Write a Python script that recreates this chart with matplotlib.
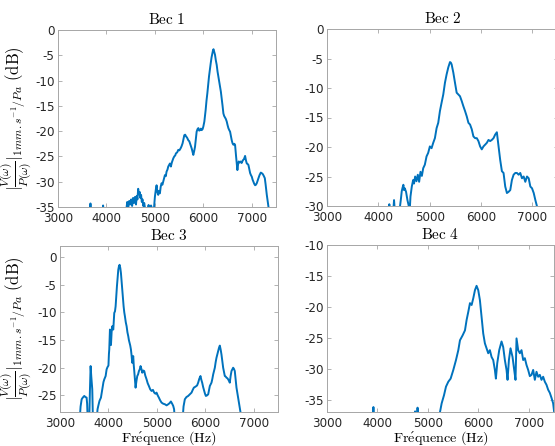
import matplotlib
matplotlib.use("Agg")
import matplotlib.pyplot as plt

plt.rcParams['mathtext.fontset'] = 'cm'
plt.rcParams['axes.unicode_minus'] = False
plt.rcParams['font.family'] = ['DejaVu Sans']

# ---------------- data ----------------
titles = ["Bec 1", "Bec 2", "Bec 3", "Bec 4"]
xticks = [3000, 4000, 5000, 6000, 7000]

f1 = [3655, 3670, 3685, 3915, 3931, 3947, 4395, 4410, 4430, 4445,
      4470, 4490, 4510, 4530, 4550, 4570, 4590, 4610, 4625, 4640,
      4655, 4670, 4685, 4700, 4715, 4730, 4745, 4760, 4780, 4800,
      4830, 4870, 4890, 4920, 4950, 4975, 5000, 5020, 5035, 5050,
      5069, 5085, 5103, 5120, 5138, 5155, 5172, 5190, 5207, 5225,
      5241, 5260, 5276, 5293, 5310, 5330, 5350, 5379, 5400, 5420,
      5434, 5460, 5483, 5505, 5531, 5550, 5572, 5590, 5607, 5625,
      5641, 5665, 5690, 5710, 5724, 5740, 5759, 5775, 5793, 5810,
      5828, 5845, 5862, 5880, 5897, 5915, 5931, 5950, 5966, 5985,
      6000, 6021, 6035, 6048, 6065, 6083, 6100, 6117, 6135, 6152,
      6170, 6186, 6200, 6210, 6225, 6241, 6258, 6276, 6293, 6310,
      6328, 6345, 6362, 6379, 6397, 6414, 6430, 6448, 6465, 6483,
      6500, 6517, 6535, 6552, 6570, 6586, 6603, 6621, 6640, 6655,
      6666, 6676, 6690, 6703, 6717, 6731, 6750, 6772, 6790, 6814,
      6840, 6862, 6880, 6897, 6915, 6931, 6950, 6966, 6983, 7000,
      7017, 7034, 7050, 7069, 7085, 7103, 7120, 7138, 7160, 7186,
      7205, 7228, 7250, 7269, 7285, 7297, 7310, 7324, 7345, 7365]
db1 = [-37.0, -34.3, -37.0, -37.0, -34.7, -37.0, -37.0, -35.5, -34.0, -35.5,
       -33.8, -34.5, -33.5, -34.8, -33.2, -34.2, -33.0, -34.5, -32.8, -33.5,
       -31.4, -32.5, -32.0, -33.2, -32.6, -34.0, -33.5, -34.8, -34.2, -35.5,
       -36.0, -34.6, -35.3, -34.7, -35.5, -36.0, -33.0, -31.5, -30.7, -32.0,
       -32.6, -31.8, -32.3, -31.0, -30.3, -30.6, -30.0, -29.3, -28.7, -28.9,
       -28.0, -27.6, -27.0, -26.7, -26.4, -27.0, -26.2, -25.4, -25.0, -24.8,
       -24.4, -24.2, -23.7, -23.8, -23.4, -23.0, -22.4, -21.6, -20.8, -20.7,
       -21.0, -21.3, -21.8, -22.0, -22.4, -22.9, -23.4, -24.0, -24.7, -24.0,
       -23.1, -21.5, -20.1, -19.6, -19.4, -19.9, -19.8, -19.5, -19.8, -19.6,
       -19.1, -18.1, -17.0, -15.8, -14.0, -12.5, -10.8, -9.2, -7.8, -6.6,
       -5.4, -4.6, -4.0, -3.8, -4.3, -4.9, -6.0, -6.9, -8.2, -9.2,
       -10.3, -11.2, -12.2, -13.5, -15.0, -16.5, -17.0, -17.3, -17.6, -18.1,
       -18.8, -19.4, -19.8, -20.1, -21.0, -21.8, -22.4, -22.7, -22.5, -22.7,
       -24.0, -25.0, -26.5, -27.7, -26.6, -26.0, -26.2, -26.0, -26.3, -25.8,
       -25.5, -24.9, -25.8, -26.4, -26.5, -26.7, -27.6, -28.3, -28.7, -29.0,
       -29.6, -30.0, -30.4, -30.7, -30.6, -30.3, -29.8, -29.3, -28.7, -28.2,
       -28.3, -28.5, -28.9, -29.3, -30.5, -31.6, -32.6, -33.6, -35.0, -37.0]

f2 = [4200, 4214, 4228, 4290, 4306, 4322, 4410, 4423, 4440, 4456,
      4472, 4488, 4500, 4515, 4540, 4567, 4593, 4610, 4626, 4652,
      4678, 4695, 4717, 4743, 4769, 4795, 4821, 4848, 4874, 4906,
      4939, 4971, 5004, 5037, 5069, 5102, 5135, 5167, 5200, 5232,
      5265, 5298, 5330, 5363, 5396, 5412, 5428, 5461, 5493, 5526,
      5559, 5591, 5624, 5657, 5689, 5722, 5755, 5787, 5820, 5852,
      5885, 5918, 5950, 5983, 6015, 6048, 6081, 6113, 6146, 6178,
      6211, 6244, 6276, 6309, 6342, 6374, 6407, 6439, 6472, 6505,
      6537, 6570, 6602, 6635, 6668, 6700, 6733, 6765, 6798, 6831,
      6863, 6896, 6929, 6961, 6994, 7027, 7059, 7092, 7110]
db2 = [-31.0, -29.7, -31.0, -31.0, -29.0, -31.0, -31.0, -30.0, -28.8, -27.5,
       -26.9, -26.4, -27.3, -27.0, -27.6, -29.0, -30.0, -31.0, -28.4, -26.7,
       -25.6, -26.2, -25.0, -25.8, -24.7, -25.9, -24.2, -24.9, -23.6, -23.0,
       -21.6, -21.0, -19.9, -20.2, -19.3, -18.5, -16.8, -15.9, -13.9, -12.5,
       -11.1, -9.1, -7.7, -6.5, -5.6, -5.7, -6.0, -7.4, -9.1, -10.8,
       -11.1, -11.4, -12.2, -13.1, -13.9, -14.8, -15.9, -16.2, -17.0, -18.2,
       -18.5, -18.5, -19.0, -19.9, -20.4, -19.9, -19.6, -19.3, -18.8, -19.0,
       -18.8, -18.5, -17.9, -17.5, -19.9, -22.2, -24.1, -24.4, -26.7, -27.8,
       -27.6, -27.3, -25.6, -24.7, -24.4, -24.4, -24.7, -24.4, -25.3, -25.0,
       -25.9, -25.0, -25.3, -26.7, -27.0, -27.8, -29.0, -30.1, -31.0]

f3 = [3405, 3425, 3447, 3470, 3501, 3525, 3549, 3560, 3572, 3604,
      3618, 3632, 3645, 3666, 3680, 3756, 3775, 3790, 3815, 3845,
      3862, 3880, 3897, 3914, 3928, 3942, 3962, 3980, 4000, 4010,
      4017, 4031, 4042, 4052, 4066, 4079, 4090, 4100, 4110, 4120,
      4135, 4148, 4162, 4175, 4190, 4203, 4218, 4230, 4245, 4258,
      4272, 4285, 4300, 4313, 4327, 4340, 4358, 4375, 4392, 4409,
      4422, 4436, 4450, 4464, 4478, 4491, 4500, 4512, 4522, 4533,
      4547, 4560, 4578, 4595, 4612, 4629, 4646, 4663, 4680, 4698,
      4718, 4739, 4760, 4787, 4810, 4835, 4862, 4890, 4918, 4945,
      4970, 4993, 5017, 5041, 5068, 5096, 5130, 5165, 5200, 5234,
      5262, 5289, 5315, 5337, 5355, 5371, 5529, 5550, 5577, 5610,
      5646, 5680, 5715, 5740, 5763, 5800, 5830, 5852, 5875, 5900,
      5918, 5935, 5955, 5976, 5993, 6011, 6035, 6059, 6076, 6093,
      6110, 6127, 6145, 6162, 6180, 6196, 6213, 6230, 6248, 6265,
      6282, 6299, 6316, 6333, 6350, 6368, 6385, 6402, 6420, 6437,
      6455, 6471, 6490, 6505, 6522, 6540, 6557, 6574, 6590, 6608,
      6625, 6643, 6660, 6677, 6695, 6711, 6725, 6740]
db3 = [-29.5, -27.0, -25.7, -25.4, -25.1, -25.3, -25.4, -26.5, -29.5, -29.5,
       -24.0, -19.7, -21.5, -23.9, -29.5, -29.5, -27.5, -26.9, -26.0, -25.4,
       -24.5, -23.6, -22.6, -22.1, -21.8, -21.5, -20.3, -19.9, -19.6, -17.5,
       -16.7, -13.1, -15.0, -15.9, -13.5, -12.5, -12.9, -13.1, -11.5, -10.1,
       -9.8, -8.9, -7.0, -5.3, -3.6, -2.3, -1.6, -1.4, -2.0, -2.9,
       -4.4, -5.9, -7.5, -8.9, -10.0, -10.7, -11.8, -12.5, -13.6, -14.3,
       -15.0, -15.5, -16.0, -16.7, -17.8, -19.1, -18.2, -17.9, -19.5, -20.6,
       -22.3, -23.6, -22.4, -21.5, -21.2, -20.6, -20.3, -19.7, -20.2, -20.9,
       -20.5, -20.6, -21.4, -22.1, -22.8, -23.3, -23.9, -24.2, -24.0, -24.5,
       -24.7, -24.5, -25.0, -25.4, -25.9, -26.3, -26.5, -26.6, -26.8, -26.6,
       -26.4, -26.1, -26.5, -26.9, -27.5, -29.5, -29.5, -27.0, -25.7, -25.3,
       -25.1, -24.8, -24.5, -24.0, -23.6, -23.4, -23.2, -22.7, -22.0, -21.5,
       -22.2, -22.7, -23.5, -24.2, -24.7, -25.1, -25.0, -24.8, -24.0, -23.3,
       -23.0, -22.7, -22.0, -21.2, -20.6, -20.0, -19.0, -18.2, -17.6, -17.0,
       -16.4, -16.0, -16.7, -17.6, -18.8, -20.0, -20.8, -21.5, -21.6, -21.8,
       -21.9, -22.1, -22.4, -22.7, -21.5, -20.6, -20.3, -20.0, -20.2, -20.6,
       -22.0, -23.6, -24.5, -25.4, -26.3, -27.2, -28.0, -29.5]

f4 = [3905, 3920, 3935, 4735, 4746, 4757, 4780, 4795, 4810, 5225,
      5240, 5273, 5319, 5359, 5405, 5451, 5504, 5557, 5603, 5636,
      5689, 5735, 5768, 5801, 5834, 5867, 5900, 5933, 5965, 5998,
      6031, 6064, 6097, 6130, 6163, 6196, 6229, 6262, 6295, 6328,
      6348, 6375, 6414, 6460, 6493, 6526, 6559, 6579, 6606, 6638,
      6678, 6711, 6737, 6757, 6790, 6823, 6856, 6889, 6922, 6955,
      6988, 7021, 7054, 7087, 7120, 7153, 7186, 7219, 7252, 7285,
      7318, 7351, 7384, 7417, 7450, 7483, 7500, 7515]
db4 = [-38.0, -36.2, -38.0, -38.0, -36.9, -38.0, -38.0, -36.3, -38.0, -38.0,
       -37.0, -35.6, -34.3, -32.9, -32.1, -31.6, -30.2, -28.6, -27.0, -25.4,
       -24.6, -23.8, -22.1, -20.8, -19.4, -19.7, -18.6, -17.3, -16.6, -17.3,
       -18.9, -21.6, -24.3, -25.9, -26.7, -27.5, -27.0, -28.1, -28.6, -30.2,
       -31.6, -29.1, -27.0, -25.6, -26.5, -28.6, -30.2, -31.8, -28.6, -26.7,
       -28.1, -30.2, -31.8, -25.1, -27.0, -27.5, -27.0, -28.6, -28.3, -29.4,
       -30.2, -31.2, -31.0, -30.2, -31.8, -30.5, -31.3, -31.0, -31.8, -31.3,
       -32.1, -32.6, -33.4, -33.9, -34.7, -35.6, -36.8, -38.0]

freqs = [f1, f2, f3, f4]
dbs = [db1, db2, db3, db4]
ylims = [(-35, 0), (-30, 0), (-28, 2), (-37, -10)]
yticks = [[-35, -30, -25, -20, -15, -10, -5, 0],
          [-30, -25, -20, -15, -10, -5, 0],
          [-25, -20, -15, -10, -5, 0],
          [-35, -30, -25, -20, -15, -10]]
xlim = (3000, 7500)

# ---------------- layout ----------------
W, H = 555, 446
fig = plt.figure(figsize=(W / 100, H / 100), dpi=100)

# left, top, right, bottom in pixels
boxes = [(58, 30, 276, 207), (327, 29, 558, 206),
         (60, 246, 278, 412), (327, 245, 554, 412)]

line_color = '#0072BD'
spine_color = '#a6a6a6'
text_color = '#262626'

ylabel = r'$|\frac{V(\omega)}{P(\omega)}|_{1mm.s^{-1}/Pa}\ \mathrm{(dB)}$'
xlabel = r'$\mathrm{Fr\acute{e}quence\ (Hz)}$'

for i in range(4):
    l, t, r, b = boxes[i]
    ax = fig.add_axes([l / W, (H - b) / H, (r - l) / W, (b - t) / H])
    ax.plot(freqs[i], dbs[i], color=line_color, lw=1.4)
    ax.set_xlim(*xlim)
    ax.set_ylim(*ylims[i])
    ax.set_xticks(xticks)
    ax.set_yticks(yticks[i])
    ax.tick_params(direction='in', length=3, width=0.6, color=spine_color,
                   labelcolor=text_color, labelsize=8.6, top=True, right=True)
    ax.tick_params(axis='x', pad=3.5)
    ax.tick_params(axis='y', pad=2.5)
    for s in ax.spines.values():
        s.set_color(spine_color)
        s.set_linewidth(0.7)
    ax.set_title(r'$\mathrm{' + titles[i].replace(' ', r'\ ') + '}$', fontsize=11, pad=4)
    if i in (0, 2):
        ax.set_ylabel(ylabel, fontsize=12)
        ax.yaxis.set_label_coords(-(l - 34) / (r - l), 0.5)
    if i in (2, 3):
        ax.set_xlabel(xlabel, fontsize=10.2, labelpad=-0.5)

fig.savefig('out.png', dpi=100)
